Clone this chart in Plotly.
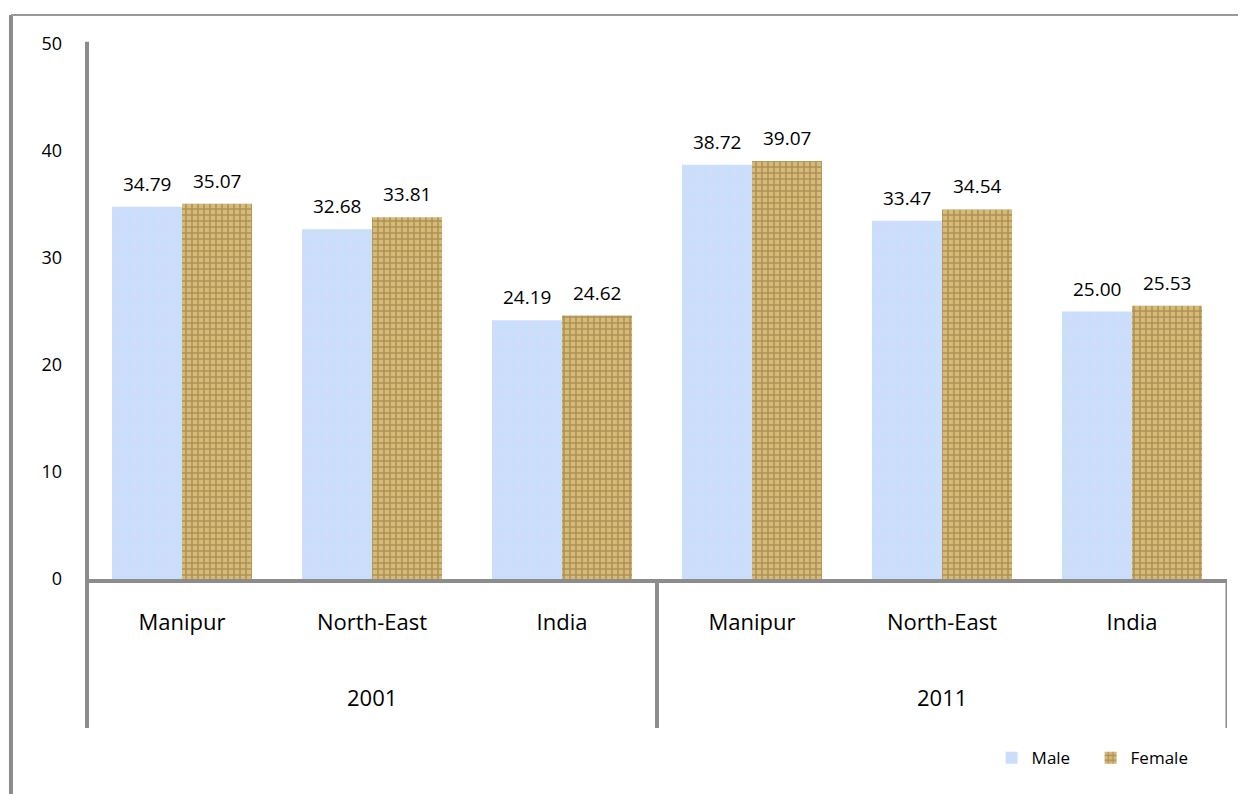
import plotly.graph_objects as go

regions = ["Manipur", "North-East", "India", "Manipur", "North-East", "India"]
years = ["2001", "2011"]
male = [34.79, 32.68, 24.19, 38.72, 33.47, 25.00]
female = [35.07, 33.81, 24.62, 39.07, 34.54, 25.53]
yticks = [0, 10, 20, 30, 40, 50]

FONT = "Open Sans"
xpos = list(range(len(regions)))
GRAY = "#8c8c8c"

fig = go.Figure()
fig.add_trace(go.Bar(
    x=xpos, y=male, name="Male",
    marker=dict(color="#cfdcfa", line=dict(width=0),
                pattern=dict(shape=".", fgcolor="#c0e2fa", size=12, solidity=0.5)),
))
fig.add_trace(go.Bar(
    x=xpos, y=female, name="Female",
    marker=dict(color="#d6ba78", line=dict(width=0),
                pattern=dict(shape="+", fgcolor="#866635", size=6, solidity=0.45)),
))

half = (1 - 0.263) / 4  # half bar width in category units
annotations = []
for i, (m, f) in enumerate(zip(male, female)):
    annotations.append(dict(x=i - half, y=m, xref="x", yref="y", text=f"{m:.2f}",
                            showarrow=False, yanchor="middle", yshift=23,
                            font=dict(family=FONT, size=19, color="#000")))
    annotations.append(dict(x=i + half, y=f, xref="x", yref="y", text=f"{f:.2f}",
                            showarrow=False, yanchor="middle", yshift=23,
                            font=dict(family=FONT, size=19, color="#000")))
for j, yr in enumerate(years):
    annotations.append(dict(x=3 * j + 1, y=-0.2206, xref="x", yref="paper", text=yr,
                            showarrow=False, yanchor="middle",
                            font=dict(family=FONT, size=22, color="#000")))

shapes = [
    # y axis line extending below into category area
    dict(type="line", xref="paper", yref="paper", x0=0, x1=0, y0=-0.2785, y1=1.004,
         line=dict(color=GRAY, width=4)),
    # group dividers
    dict(type="line", xref="x", yref="paper", x0=2.5, x1=2.5, y0=0, y1=-0.2785,
         line=dict(color=GRAY, width=4)),
    dict(type="line", xref="x", yref="paper", x0=5.5, x1=5.5, y0=0, y1=-0.2785,
         line=dict(color=GRAY, width=3)),
    # outer chart frame
    dict(type="line", xref="paper", yref="paper", x0=-0.0667, x1=-0.0667, y0=-0.45, y1=1.054,
         line=dict(color=GRAY, width=4)),
    dict(type="line", xref="paper", yref="paper", x0=-0.0667, x1=1.05, y0=1.054, y1=1.054,
         line=dict(color="#999999", width=2)),
]

fig.update_layout(
    width=1238, height=786,
    margin=dict(l=79, r=19, t=36, b=215),
    paper_bgcolor="white", plot_bgcolor="white",
    barmode="group", bargap=0.263, bargroupgap=0,
    font=dict(family=FONT, color="#000"),
    xaxis=dict(range=[-0.5, 5.5], tickvals=xpos, ticktext=regions, showgrid=False,
               zeroline=False, showline=True, linecolor=GRAY, linewidth=4, ticks="",
               tickfont=dict(size=22, family=FONT), ticklabelstandoff=21),
    yaxis=dict(range=[0, 50], tickvals=yticks, showgrid=False, zeroline=False,
               showline=False, ticks="", tickfont=dict(size=18, family=FONT),
               ticklabelstandoff=24),
    showlegend=True,
    legend=dict(orientation="h", x=0.7935, y=-0.335, xanchor="left", yanchor="middle",
                font=dict(size=17, family=FONT), itemwidth=30, entrywidth=54),
    annotations=annotations,
    shapes=shapes,
)

fig.write_html("out.html")
